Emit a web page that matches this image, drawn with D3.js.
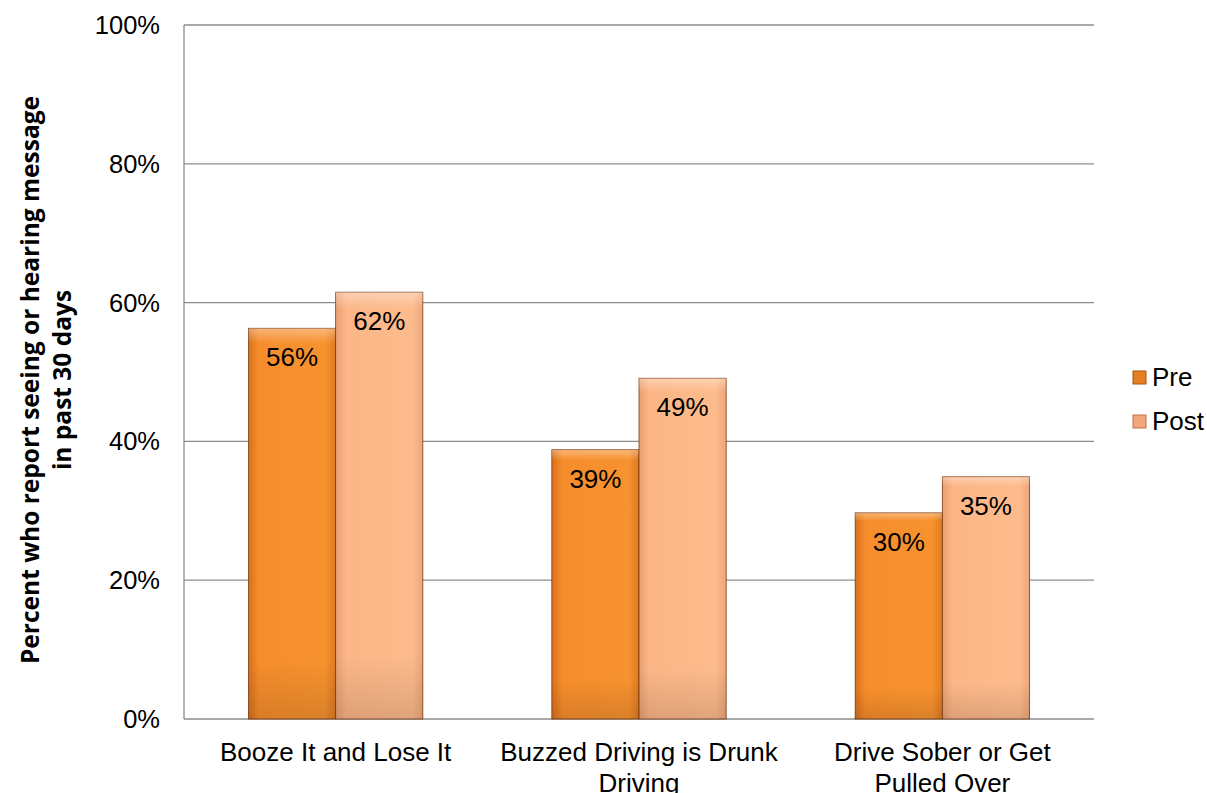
<!DOCTYPE html>
<html>
<head>
<meta charset="utf-8">
<script src="https://cdn.jsdelivr.net/npm/d3@7"></script>
<style>
  body { margin: 0; background: #fff; }
  svg text { font-family: "Liberation Sans", Arial, sans-serif; }
</style>
</head>
<body>
<svg id="chart" width="1207" height="793"></svg>
<script>
// data
const categories = ["Booze It and Lose It", "Buzzed Driving is Drunk Driving", "Drive Sober or Get Pulled Over"];
const seriesNames = ["Pre", "Post"];
const preValues = [56.3, 38.8, 29.7];
const postValues = [61.5, 49.1, 34.9];
const yTicks = [0, 20, 40, 60, 80, 100];

const svg = d3.select("#chart");
const margin = {top: 25, left: 184, right: 113, bottom: 74};
const W = 1207, H = 793;

const x = d3.scaleBand().domain(categories).range([margin.left, W - margin.right]).paddingInner(0).paddingOuter(0);
const xs = d3.scaleBand().domain(seriesNames).range([0, x.bandwidth()]).paddingInner(0).paddingOuter(0.74);
const y = d3.scaleLinear().domain([0, 100]).range([H - margin.bottom, margin.top]);

// gradients
const defs = svg.append("defs");
const grads = {
  Pre: ["#d9701c", "#f68d2c", "#f7922f", "#e07a20"],
  Post: ["#e8a073", "#fcb687", "#fdbb8c", "#eda67a"]
};
Object.keys(grads).forEach(k => {
  const c = grads[k];
  const g = defs.append("linearGradient").attr("id", "g" + k).attr("x1", 0).attr("x2", 1).attr("y1", 0).attr("y2", 0);
  g.append("stop").attr("offset", 0).attr("stop-color", c[0]);
  g.append("stop").attr("offset", 0.12).attr("stop-color", c[1]);
  g.append("stop").attr("offset", 0.88).attr("stop-color", c[2]);
  g.append("stop").attr("offset", 1).attr("stop-color", c[3]);
  const v = defs.append("linearGradient").attr("id", "v" + k).attr("x1", 0).attr("x2", 0).attr("y1", 0).attr("y2", 1);
  v.append("stop").attr("offset", 0).attr("stop-color", "#fff").attr("stop-opacity", 0.35);
  v.append("stop").attr("offset", 0.04).attr("stop-color", "#fff").attr("stop-opacity", 0);
  v.append("stop").attr("offset", 0.85).attr("stop-color", "#000").attr("stop-opacity", 0);
  v.append("stop").attr("offset", 1).attr("stop-color", "#000").attr("stop-opacity", 0.12);
});

// gridlines
svg.append("g").selectAll("line").data(yTicks).join("line")
  .attr("x1", margin.left).attr("x2", W - margin.right)
  .attr("y1", d => y(d)).attr("y2", d => y(d))
  .attr("stroke", "#8c8c8c").attr("stroke-width", 1.3);

// y axis
svg.append("line").attr("x1", margin.left).attr("x2", margin.left)
  .attr("y1", y(100)).attr("y2", y(0)).attr("stroke", "#8c8c8c").attr("stroke-width", 1.3);
svg.append("g").selectAll("text").data(yTicks).join("text")
  .attr("x", 160).attr("y", d => y(d)).attr("dy", "0.35em")
  .attr("text-anchor", "end").attr("font-size", 25.5).attr("fill", "#000")
  .text(d => d + "%");

// bars
const rows = categories.map((c, i) => ({cat: c, vals: [
  {name: "Pre", v: preValues[i]}, {name: "Post", v: postValues[i]}
]}));
const grp = svg.append("g").selectAll("g").data(rows).join("g")
  .attr("transform", d => `translate(${x(d.cat)},0)`);
const bar = grp.selectAll("g").data(d => d.vals).join("g");
bar.append("rect")
  .attr("x", d => xs(d.name)).attr("width", xs.bandwidth())
  .attr("y", d => y(d.v)).attr("height", d => y(0) - y(d.v))
  .attr("fill", d => `url(#g${d.name})`)
  .attr("stroke", "#7a3b10").attr("stroke-width", 0.8);
bar.append("rect")
  .attr("x", d => xs(d.name)).attr("width", xs.bandwidth())
  .attr("y", d => y(d.v)).attr("height", d => y(0) - y(d.v))
  .attr("fill", d => `url(#v${d.name})`);
bar.append("text")
  .attr("x", d => xs(d.name) + xs.bandwidth() / 2)
  .attr("y", d => y(d.v) + 38)
  .attr("text-anchor", "middle").attr("font-size", 26).attr("fill", "#000")
  .text(d => Math.round(d.v) + "%");

// category labels (wrapped like the original)
const wrapped = {
  "Booze It and Lose It": ["Booze It and Lose It"],
  "Buzzed Driving is Drunk Driving": ["Buzzed Driving is Drunk", "Driving"],
  "Drive Sober or Get Pulled Over": ["Drive Sober or Get", "Pulled Over"]
};
svg.append("g").selectAll("text").data(categories).join("text")
  .attr("x", d => x(d) + x.bandwidth() / 2).attr("y", 761)
  .attr("text-anchor", "middle").attr("font-size", 26).attr("fill", "#000")
  .each(function(d) {
    d3.select(this).selectAll("tspan").data(wrapped[d]).join("tspan")
      .attr("x", x(d) + x.bandwidth() / 2)
      .attr("dy", (t, i) => i ? 31 : 0)
      .text(t => t);
  });

// axis title
svg.append("text")
  .attr("transform", `translate(47,${(y(0) + y(100)) / 2 + 8}) rotate(-90)`)
  .attr("text-anchor", "middle").attr("font-size", 24.5).attr("font-weight", "bold")
  .style("font-family", "'Open Sans', 'Noto Sans', sans-serif")
  .selectAll("tspan").data(["Percent who report seeing or hearing message", "in past 30 days"]).join("tspan")
  .attr("x", 0).attr("dy", (t, i) => i ? 32 : -8)
  .text(t => t);

// legend
const leg = svg.append("g").selectAll("g").data(seriesNames).join("g")
  .attr("transform", (d, i) => `translate(1133,${377 + i * 44})`);
leg.append("rect").attr("x", 0).attr("y", -6).attr("width", 13).attr("height", 13)
  .attr("fill", d => d === "Pre" ? "#e67e22" : "#f2a77b")
  .attr("stroke", d => d === "Pre" ? "#a85410" : "#b9744c").attr("stroke-width", 1);
leg.append("text").attr("x", 19).attr("dy", "0.35em").attr("font-size", 26).attr("fill", "#000")
  .text(d => d);
</script>
</body>
</html>
